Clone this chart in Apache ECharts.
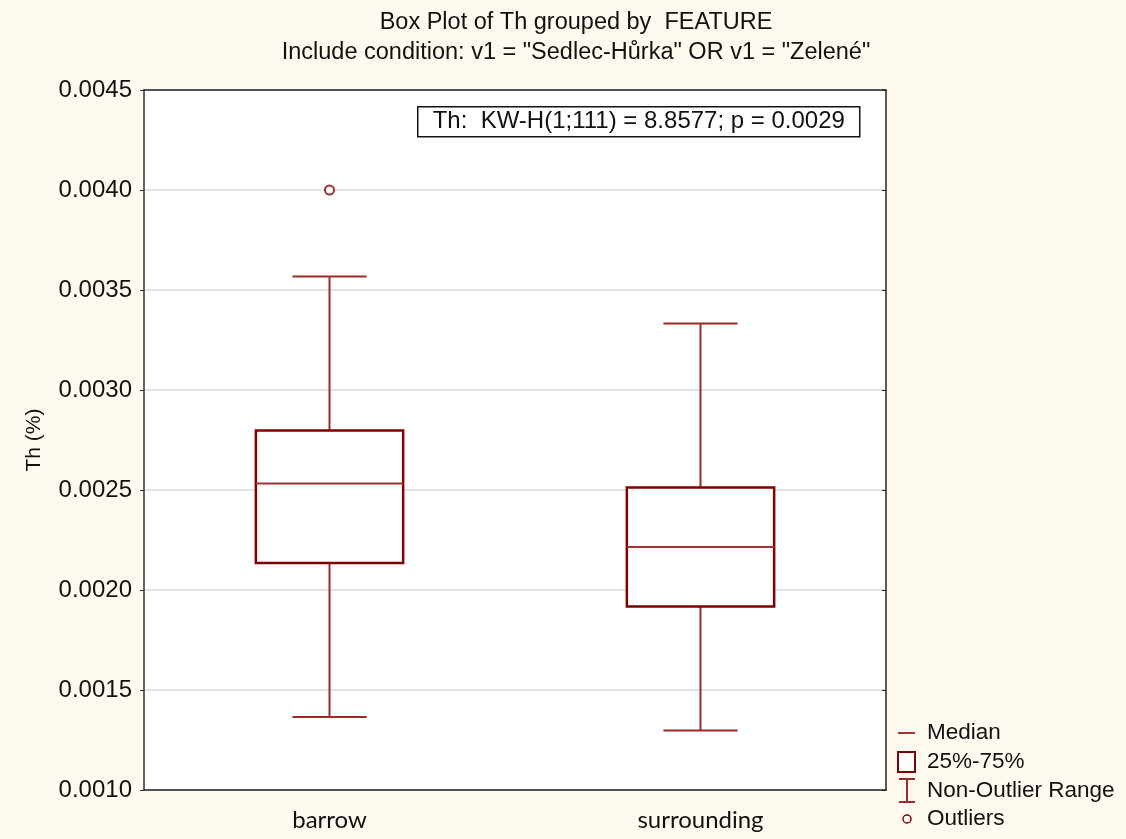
<!DOCTYPE html>
<html>
<head>
<meta charset="utf-8">
<script src="https://cdn.jsdelivr.net/npm/echarts@6/dist/echarts.min.js"></script>
<style>
  html, body { margin: 0; padding: 0; background: #fefaf0; }
  #chart { width: 1126px; height: 839px; }
</style>
</head>
<body>
<div id="chart"></div>
<script>
// Groups of the FEATURE variable
const categories = ['barrow', 'surrounding'];
// Box statistics per group: [non-outlier min, 25%, median, 75%, non-outlier max]
const boxStats = [
  [0.001365, 0.002135, 0.002532, 0.002798, 0.003567],
  [0.001298, 0.001918, 0.002215, 0.002512, 0.003332]
];
// Outliers: [group index, value]
const outliers = [[0, 0.00400]];
// Value axis range and step
const yMin = 0.0010, yMax = 0.0045, yStep = 0.0005;
// Heading lines
const titleLines = ['Box Plot of Th grouped by  FEATURE', 'Include condition: v1 = "Sedlec-Hůrka" OR v1 = "Zelené"'];
const statText = 'Th:  KW-H(1;111) = 8.8577; p = 0.0029';

const boxColor = '#7f0000';
const whiskerColor = '#9b2a2a';
const medianColor = '#9e3535';
const textFont = '"Liberation Sans", Arial, sans-serif';

const chart = echarts.init(document.getElementById('chart'), null, { renderer: 'canvas' });

function renderBox(params, api) {
  const idx = api.value(0);
  const lo = api.coord([idx, api.value(1)]);
  const q1 = api.coord([idx, api.value(2)]);
  const med = api.coord([idx, api.value(3)]);
  const q3 = api.coord([idx, api.value(4)]);
  const hi = api.coord([idx, api.value(5)]);
  const band = api.size([1, 0])[0];
  const bw = band * 0.397;
  const cw = band * 0.2;
  const x = lo[0];
  const lineW = { stroke: whiskerColor, lineWidth: 2 };
  return {
    type: 'group',
    children: [
      { type: 'line', shape: { x1: x, y1: q3[1], x2: x, y2: hi[1] }, style: lineW },
      { type: 'line', shape: { x1: x - cw / 2, y1: hi[1], x2: x + cw / 2, y2: hi[1] }, style: lineW },
      { type: 'line', shape: { x1: x, y1: q1[1], x2: x, y2: lo[1] }, style: lineW },
      { type: 'line', shape: { x1: x - cw / 2, y1: lo[1], x2: x + cw / 2, y2: lo[1] }, style: lineW },
      { type: 'rect', shape: { x: x - bw / 2, y: q3[1], width: bw, height: q1[1] - q3[1] },
        style: { fill: '#ffffff', stroke: boxColor, lineWidth: 2.5 } },
      { type: 'line', shape: { x1: x - bw / 2, y1: med[1], x2: x + bw / 2, y2: med[1] },
        style: { stroke: medianColor, lineWidth: 2 } }
    ]
  };
}

const boxData = boxStats.map((s, i) => [i].concat(s));

// Two-line heading
const headingGraphics = titleLines.map((t, i) => ({
  type: 'text', x: 576, y: 23 + i * 30,
  style: { text: t, fill: '#111', font: '23.5px ' + textFont, textAlign: 'center', textVerticalAlign: 'middle' }
}));

// Legend block at the lower right
const lx = 907, legendText = { fill: '#111', font: '22.5px ' + textFont, textVerticalAlign: 'middle' };
const legendGraphics = [
  { type: 'line', shape: { x1: lx - 9, y1: 733, x2: lx + 8, y2: 733 }, style: { stroke: medianColor, lineWidth: 2 } },
  { type: 'text', x: 927, y: 733, style: Object.assign({ text: 'Median' }, legendText) },
  { type: 'rect', shape: { x: lx - 9, y: 752, width: 17, height: 20 }, style: { fill: '#ffffff', stroke: boxColor, lineWidth: 2 } },
  { type: 'text', x: 927, y: 762, style: Object.assign({ text: '25%-75%' }, legendText) },
  { type: 'line', shape: { x1: lx, y1: 779, x2: lx, y2: 802 }, style: { stroke: whiskerColor, lineWidth: 2 } },
  { type: 'line', shape: { x1: lx - 8, y1: 779, x2: lx + 8, y2: 779 }, style: { stroke: whiskerColor, lineWidth: 2 } },
  { type: 'line', shape: { x1: lx - 8, y1: 802, x2: lx + 8, y2: 802 }, style: { stroke: whiskerColor, lineWidth: 2 } },
  { type: 'text', x: 927, y: 791, style: Object.assign({ text: 'Non-Outlier Range' }, legendText) },
  { type: 'circle', shape: { cx: lx, cy: 819, r: 4 }, style: { fill: '#ffffff', stroke: boxColor, lineWidth: 1.5 } },
  { type: 'text', x: 927, y: 819, style: Object.assign({ text: 'Outliers' }, legendText) }
];

const option = {
  backgroundColor: '#fefaf0',
  animation: false,
  grid: { left: 144, right: 240, top: 90, bottom: 49, show: true, backgroundColor: '#ffffff', borderWidth: 0 },
  xAxis: [
    {
      type: 'category', data: categories, position: 'bottom',
      axisLine: { lineStyle: { color: '#222', width: 1.5 } },
      axisTick: { inside: true, alignWithLabel: true, length: 5, lineStyle: { color: '#222' } },
      axisLabel: { fontFamily: 'Lato, "Open Sans", sans-serif', fontSize: 24, color: '#111', margin: 18 },
      splitLine: { show: false }
    },
    {
      type: 'category', data: categories, position: 'top',
      axisLine: { lineStyle: { color: '#222', width: 1.5 } },
      axisTick: { inside: true, alignWithLabel: true, length: 5, lineStyle: { color: '#222' } },
      axisLabel: { show: false }
    }
  ],
  yAxis: [
    {
      type: 'value', min: yMin, max: yMax, interval: yStep, position: 'left',
      name: 'Th (%)', nameLocation: 'middle', nameGap: 99, nameRotate: 90,
      nameTextStyle: { fontFamily: textFont, fontSize: 21, color: '#111' },
      axisLine: { show: true, lineStyle: { color: '#333', width: 1.5 } },
      axisTick: { show: true, length: 4, lineStyle: { color: '#333' } },
      axisLabel: { formatter: v => v.toFixed(4), fontFamily: textFont, fontSize: 24, color: '#111', margin: 12 },
      splitLine: { show: true, lineStyle: { color: '#dadada', width: 1.5 } }
    },
    {
      type: 'value', min: yMin, max: yMax, interval: yStep, position: 'right',
      axisLine: { show: true, lineStyle: { color: '#222', width: 1.5 } },
      axisTick: { show: true, inside: true, length: 4, lineStyle: { color: '#222' } },
      axisLabel: { show: false },
      splitLine: { show: false }
    }
  ],
  series: [
    {
      type: 'custom', xAxisIndex: 0, yAxisIndex: 0,
      renderItem: renderBox,
      encode: { x: 0, y: [1, 2, 3, 4, 5] },
      data: boxData, z: 3
    },
    {
      type: 'scatter', xAxisIndex: 0, yAxisIndex: 0,
      symbol: 'emptyCircle', symbolSize: 9,
      itemStyle: { color: boxColor, borderWidth: 1.5 },
      data: outliers, z: 4
    }
  ],
  graphic: [
    {
      type: 'group', left: 417, top: 106,
      children: [
        { type: 'rect', shape: { x: 0, y: 0, width: 442, height: 30 },
          style: { fill: '#ffffff', stroke: '#111', lineWidth: 1.5 } },
        { type: 'text', x: 221, y: 15, style: { text: statText,
          fill: '#111', font: '24px ' + textFont, textAlign: 'center', textVerticalAlign: 'middle' } }
      ]
    }
  ].concat(headingGraphics, legendGraphics)
};

chart.setOption(option);
</script>
</body>
</html>
